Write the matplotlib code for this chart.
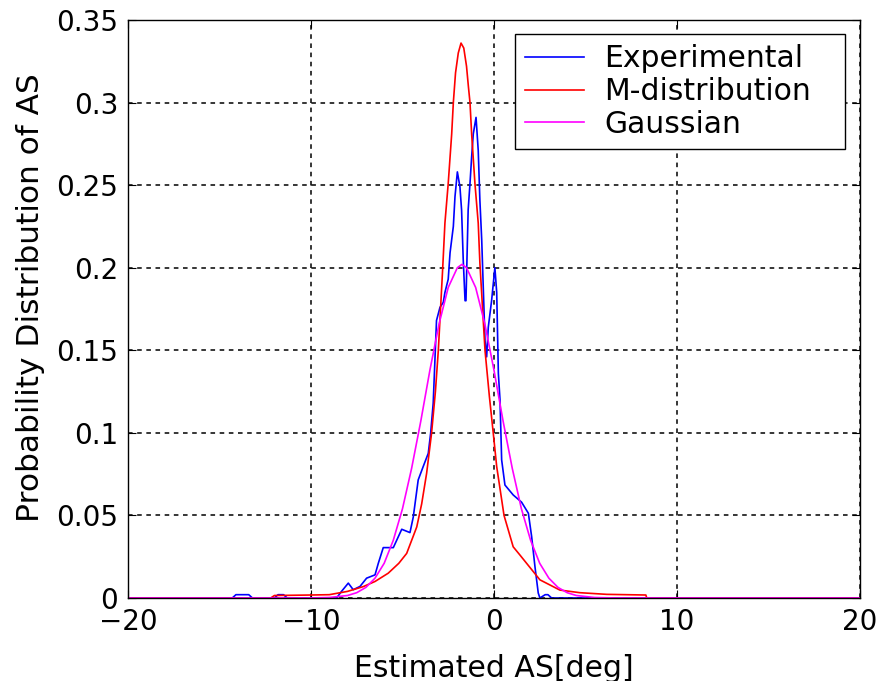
import matplotlib
matplotlib.use("Agg")
import matplotlib.pyplot as plt

# ======================================================
# Données
# ======================================================

# Experimental (bleu)
exp_x = [-20, -14.3, -14.1, -13.4, -13.2, -12.0, -11.8, -11.5, -11.3, -10.6,
         -8.6, -8.33, -7.96, -7.69, -7.32, -6.96, -6.5, -6.32, -6.05, -5.5,
         -5.04, -4.59, -4.41, -4.14, -3.87, -3.59, -3.46, -3.32, -3.14, -2.95,
         -2.77, -2.68, -2.5, -2.4, -2.22, -2.13, -2.0, -1.86, -1.77, -1.68,
         -1.58, -1.53, -1.41, -1.31, -1.22, -1.13, -0.98, -0.86, -0.77, -0.67,
         -0.49, -0.4, -0.31, -0.13, 0.05, 0.15, 0.24, 0.33, 0.42, 0.6,
         1.05, 1.51, 1.88, 2.06, 2.24, 2.42, 2.51, 2.8, 2.95, 3.15, 20]
exp_y = [0, 0, 0.002, 0.002, 0, 0, 0.002, 0.002, 0, 0,
         0, 0.004, 0.009, 0.005, 0.007, 0.012, 0.014, 0.021, 0.0305, 0.0305,
         0.0416, 0.0396, 0.049, 0.0715, 0.0795, 0.0876, 0.0998, 0.118, 0.168, 0.176,
         0.179, 0.185, 0.193, 0.209, 0.225, 0.243, 0.258, 0.249, 0.235, 0.205,
         0.180, 0.180, 0.235, 0.251, 0.267, 0.281, 0.291, 0.271, 0.241, 0.217,
         0.156, 0.146, 0.164, 0.180, 0.200, 0.185, 0.136, 0.120, 0.0836, 0.0684,
         0.0624, 0.058, 0.0513, 0.0371, 0.019, 0.003, 0, 0.002, 0.002, 0, 0]

# M-distribution (rouge)
m_x = [-20, -12.2, -12.0, -10.0, -9.0, -8.0, -7.14, -6.5, -5.78, -5.2,
       -4.77, -4.22, -3.95, -3.68, -3.41, -3.2, -3.04, -2.8, -2.68, -2.5,
       -2.31, -2.22, -2.1, -1.95, -1.8, -1.65, -1.5, -1.4, -1.31, -1.22,
       -1.04, -0.86, -0.77, -0.49, -0.25, -0.04, 0.15, 0.55, 1.05, 1.42,
       2.51, 3.6, 4.7, 6.16, 8.3, 8.35, 20]
m_y = [0, 0, 0.0015, 0.0018, 0.002, 0.004, 0.0069, 0.010, 0.015, 0.021,
       0.027, 0.043, 0.057, 0.0755, 0.0998, 0.125, 0.15, 0.2, 0.227, 0.251,
       0.281, 0.300, 0.318, 0.330, 0.336, 0.333, 0.322, 0.310, 0.300, 0.281,
       0.251, 0.227, 0.203, 0.15, 0.122, 0.1, 0.0795, 0.05, 0.031, 0.026,
       0.011, 0.0048, 0.0032, 0.0022, 0.0018, 0, 0]

# Gaussian (magenta)
g_x = [-20, -10.0, -9.0, -8.0, -7.5, -7.0, -6.5, -6.0, -5.5, -5.0,
       -4.5, -4.0, -3.5, -3.0, -2.5, -2.0, -1.75, -1.5, -1.0, -0.5,
       0.0, 0.5, 1.0, 1.5, 2.0, 2.5, 3.0, 3.5, 4.0, 4.5,
       5.5, 6.5, 20]
g_y = [0, 0.00004, 0.0003, 0.0015, 0.0032, 0.0064, 0.012, 0.021, 0.035, 0.054,
       0.0785, 0.107, 0.138, 0.166, 0.188, 0.200, 0.202, 0.200, 0.188, 0.166,
       0.138, 0.107, 0.0785, 0.054, 0.035, 0.021, 0.012, 0.0064, 0.0032, 0.0015,
       0.0003, 0.00004, 0]

x_ticks = [-20, -10, 0, 10, 20]
x_labels = ["\u221220", "\u221210", "0", "10", "20"]
y_ticks = [0, 0.05, 0.1, 0.15, 0.2, 0.25, 0.3, 0.35]
y_labels = ["0", "0.05", "0.1", "0.15", "0.2", "0.25", "0.3", "0.35"]

# ======================================================
# Graphique
# ======================================================

plt.rcParams["font.family"] = ["DejaVu Sans"]

fig = plt.figure(figsize=(8.82, 6.81), dpi=100)
ax = fig.add_axes([0.1451, 0.1219, 0.8299, 0.8488])

ax.plot(exp_x, exp_y, color="#0000ff", lw=1.2, label="Experimental")
ax.plot(m_x, m_y, color="#ff0000", lw=1.2, label="M-distribution")
ax.plot(g_x, g_y, color="#ff00ff", lw=1.2, label="Gaussian")

ax.set_xlim(-20, 20)
ax.set_ylim(0, 0.35)
ax.set_xticks(x_ticks)
ax.set_xticklabels(x_labels)
ax.set_yticks(y_ticks)
ax.set_yticklabels(y_labels)
ax.tick_params(direction="in", top=True, right=True, length=6,
               labelsize=20, pad=7)
ax.grid(True, color="black", linestyle=(0, (3, 3)), linewidth=1.1)

for s in ax.spines.values():
    s.set_linewidth(1.0)

ax.set_xlabel("Estimated AS[deg]", fontsize=21.5, labelpad=13)
ax.set_ylabel("Probability Distribution of AS", fontsize=22.5)
ax.yaxis.set_label_coords(-0.113, 0.52)

leg = ax.legend(loc="upper left", bbox_to_anchor=(0.5287, 0.7785, 0.4508, 0.1973),
                mode="expand", fontsize=21.5, fancybox=False,
                edgecolor="black", framealpha=1, borderaxespad=0,
                handlelength=1.95, handletextpad=0.7, labelspacing=0.12,
                borderpad=0.35)
leg.get_frame().set_linewidth(1.0)

fig.savefig("out.png", dpi=100)
